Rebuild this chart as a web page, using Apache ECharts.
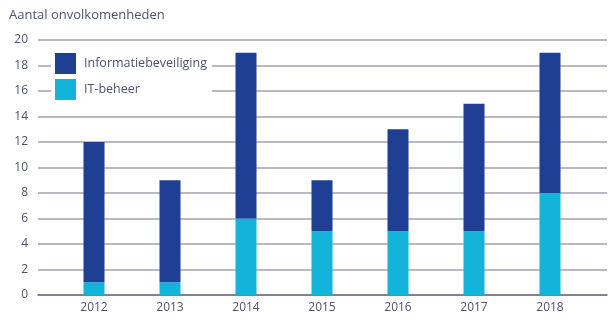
<!DOCTYPE html>
<html>
<head>
<meta charset="utf-8">
<script src="https://cdn.jsdelivr.net/npm/echarts@6/dist/echarts.min.js"></script>
<style>
  html, body { margin: 0; padding: 0; background: #fff; }
  #chart { width: 609px; height: 320px; }
</style>
</head>
<body>
<div id="chart"></div>
<script>
// Number of findings per year, split by domain
const years = ['2012', '2013', '2014', '2015', '2016', '2017', '2018'];
const itBeheer = [1, 1, 6, 5, 5, 5, 8];
const informatiebeveiliging = [11, 8, 13, 4, 8, 10, 11];
const yTicks = [0, 2, 4, 6, 8, 10, 12, 14, 16, 18, 20];

const textColor = '#4d5270';
const font = '"Open Sans", Lato, sans-serif';

const chart = echarts.init(document.getElementById('chart'), null, { renderer: 'canvas' });

chart.setOption({
  animation: false,
  textStyle: { fontFamily: font },
  title: {
    text: 'Aantal onvolkomenheden',
    left: 4, top: 4,
    textStyle: { fontSize: 13, fontWeight: 'normal', color: textColor, fontFamily: font }
  },
  legend: {
    orient: 'vertical',
    left: 51, top: 51,
    itemWidth: 21, itemHeight: 21, itemGap: 5,
    icon: 'rect',
    backgroundColor: '#ffffff',
    padding: [2, 5, 2, 4],
    textStyle: { fontSize: 12.5, color: textColor, fontFamily: font, padding: [0, 0, 0, 3] },
    data: ['Informatiebeveiliging', 'IT-beheer']
  },
  grid: [
    // background grid carrying the value ticks and gridlines
    { left: 38, right: 2, top: 40, bottom: 25 },
    // grid carrying the bars
    { left: 56, width: 532, top: 40, bottom: 25 }
  ],
  xAxis: [
    {
      gridIndex: 0, type: 'category', data: [''],
      axisLine: { show: true, lineStyle: { color: '#6e6e88', width: 1.5 } },
      axisTick: { show: false }, axisLabel: { show: false }
    },
    {
      gridIndex: 1, type: 'category', data: years,
      axisLine: { show: false },
      axisTick: { show: false },
      axisLabel: { color: textColor, fontSize: 12, margin: 7, fontFamily: font }
    }
  ],
  yAxis: [
    {
      gridIndex: 0, type: 'value', min: 0, max: 20, interval: 2,
      axisLine: { show: false }, axisTick: { show: false },
      axisLabel: { color: textColor, fontSize: 12, margin: 10, fontFamily: font,
        formatter: v => (yTicks.includes(v) ? String(v) : '') },
      splitLine: { lineStyle: { color: '#a2a2b2', width: 1.5 } }
    },
    {
      gridIndex: 1, type: 'value', min: 0, max: 20, interval: 2, show: false,
      splitLine: { show: false }
    }
  ],
  series: [
    {
      name: 'IT-beheer', type: 'bar', stack: 'total',
      xAxisIndex: 1, yAxisIndex: 1, barWidth: 21,
      itemStyle: { color: '#14b4da' },
      data: itBeheer
    },
    {
      name: 'Informatiebeveiliging', type: 'bar', stack: 'total',
      xAxisIndex: 1, yAxisIndex: 1, barWidth: 21,
      itemStyle: { color: '#1f3f95' },
      data: informatiebeveiliging
    }
  ]
});
</script>
</body>
</html>
